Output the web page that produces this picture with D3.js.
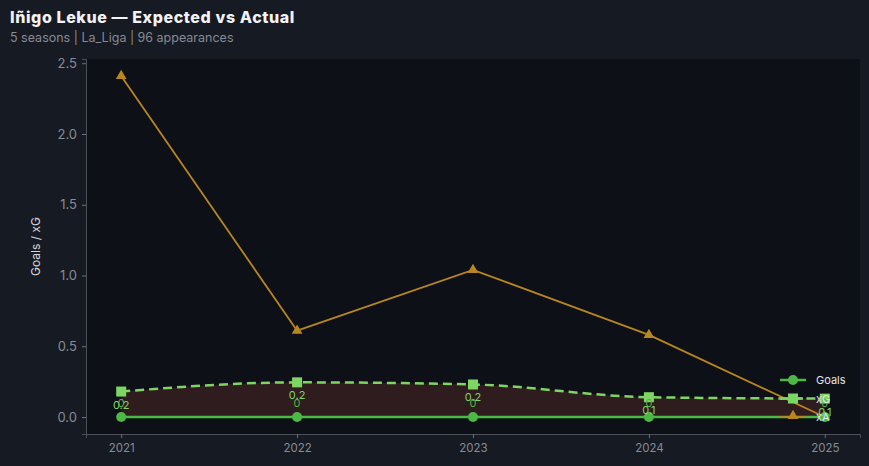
<!DOCTYPE html>
<html>
<head>
<meta charset="utf-8">
<script src="https://cdn.jsdelivr.net/npm/d3@7"></script>
<style>
  body { margin: 0; background: #161a22; }
  svg { display: block; font-family: Inter, "Noto Sans", sans-serif; }
</style>
</head>
<body>
<div id="chart"></div>
<script>
const seasons = [2021, 2022, 2023, 2024, 2025];
const goals = [0, 0, 0, 0, 0];
const xG = [0.18, 0.245, 0.23, 0.14, 0.13];
const xA = [2.41, 0.61, 1.04, 0.58, 0.0];
const yTicks = [0, 0.5, 1.0, 1.5, 2.0, 2.5];

const W = 869, H = 466;
const margin = {top: 59, right: 9, bottom: 32, left: 86};
const width = W - margin.left - margin.right;
const height = H - margin.top - margin.bottom;

const colGoals = "#4cb944", colXG = "#7dd664", colXA = "#b8861e";

const svg = d3.select("#chart").append("svg")
    .attr("width", W).attr("height", H);

svg.append("rect").attr("width", W).attr("height", H).attr("fill", "#161a22");

svg.append("text").attr("x", 10).attr("y", 23)
    .attr("fill", "#f2f2f4").attr("font-size", 16).attr("font-weight", 800)
    .attr("letter-spacing", 0.6)
    .text("Iñigo Lekue — Expected vs Actual");
svg.append("text").attr("x", 10).attr("y", 42)
    .attr("fill", "#868b95").attr("font-size", 12.5)
    .text("5 seasons | La_Liga | 96 appearances");

const g = svg.append("g").attr("transform", `translate(${margin.left},${margin.top})`);

g.append("rect").attr("width", width).attr("height", height).attr("fill", "#0d1017");

// 5% margins like matplotlib
const x = d3.scaleLinear().domain([2020.8, 2025.2]).range([0, width]);
const y = d3.scaleLinear().domain([-0.12, 2.53]).range([height, 0]);

const rows = seasons.map((s, i) => ({s, goals: goals[i], xG: xG[i], xA: xA[i]}));

// axes
const xAxis = g.append("g").attr("transform", `translate(0,${height})`)
    .call(d3.axisBottom(x).tickValues(seasons).tickFormat(d3.format("d")).tickSize(4).tickPadding(6));
const yAxis = g.append("g")
    .call(d3.axisLeft(y).tickValues(yTicks).tickFormat(d3.format(".1f")).tickSize(4).tickPadding(5));
[xAxis, yAxis].forEach(a => {
    a.select(".domain").attr("stroke", "#4a4f58");
    a.selectAll(".tick line").attr("stroke", "#6b707a");
    a.selectAll(".tick text").attr("fill", "#868b95").attr("font-family", "Inter, sans-serif");
});
xAxis.selectAll(".tick text").attr("font-size", 11.5);
yAxis.selectAll(".tick text").attr("font-size", 13);

g.append("text")
    .attr("transform", `translate(${40 - margin.left},${height / 2}) rotate(-90)`)
    .attr("text-anchor", "middle").attr("fill", "#d6d8dc").attr("font-size", 12)
    .text("Goals / xG");

// fill between goals and xG
const area = d3.area().curve(d3.curveMonotoneX)
    .x(d => x(d.s)).y0(d => y(d.goals)).y1(d => y(d.xG));
g.append("path").datum(rows).attr("d", area).attr("fill", "#2e1c1f");

// xA line
g.append("path").datum(rows)
    .attr("d", d3.line().x(d => x(d.s)).y(d => y(d.xA)))
    .attr("fill", "none").attr("stroke", colXA).attr("stroke-width", 1.8);

// goals line
g.append("path").datum(rows)
    .attr("d", d3.line().x(d => x(d.s)).y(d => y(d.goals)))
    .attr("fill", "none").attr("stroke", colGoals).attr("stroke-width", 2.5);

// xG line
g.append("path").datum(rows)
    .attr("d", d3.line().curve(d3.curveMonotoneX).x(d => x(d.s)).y(d => y(d.xG)))
    .attr("fill", "none").attr("stroke", colXG).attr("stroke-width", 2.5)
    .attr("stroke-dasharray", "9,5");

// markers
const tri = d3.symbol().type(d3.symbolTriangle).size(50);
g.selectAll(".mxa").data(rows).join("path")
    .attr("transform", d => `translate(${x(d.s)},${y(d.xA)})`)
    .attr("d", tri).attr("fill", colXA);
g.selectAll(".mg").data(rows).join("circle")
    .attr("cx", d => x(d.s)).attr("cy", d => y(d.goals)).attr("r", 5)
    .attr("fill", colGoals);
g.selectAll(".mxg").data(rows).join("rect")
    .attr("x", d => x(d.s) - 5).attr("y", d => y(d.xG) - 5)
    .attr("width", 10).attr("height", 10).attr("fill", colXG);

// value labels
g.selectAll(".lg").data(rows).join("text")
    .attr("x", d => x(d.s)).attr("y", d => y(d.goals) - 10)
    .attr("text-anchor", "middle").attr("fill", colGoals).attr("font-size", 11)
    .text(d => d3.format("")(d.goals));
g.selectAll(".lxg").data(rows).join("text")
    .attr("x", d => x(d.s)).attr("y", d => y(d.xG) + 17)
    .attr("text-anchor", "middle").attr("fill", colXG).attr("font-size", 11)
    .text(d => d3.format(".1f")(d.xG));

// legend
const legendItems = [
    {name: "Goals", color: colGoals, dash: null, mark: "circle"},
    {name: "xG", color: colXG, dash: "9,5", mark: "square"},
    {name: "xA", color: colXA, dash: null, mark: "triangle"}
];
const lg = svg.append("g").attr("transform", "translate(780,380)");
legendItems.forEach((it, i) => {
    const row = lg.append("g").attr("transform", `translate(0,${i * 18.5})`);
    row.append("line").attr("x1", 0).attr("x2", 26).attr("y1", 0).attr("y2", 0)
        .attr("stroke", it.color).attr("stroke-width", it.mark === "triangle" ? 1.8 : 2.5)
        .attr("stroke-dasharray", it.dash);
    if (it.mark === "circle") row.append("circle").attr("cx", 13).attr("r", 5).attr("fill", it.color);
    if (it.mark === "square") row.append("rect").attr("x", 8).attr("y", -5).attr("width", 10).attr("height", 10).attr("fill", it.color);
    if (it.mark === "triangle") row.append("path").attr("transform", "translate(13,-1)").attr("d", tri).attr("fill", it.color);
    row.append("text").attr("x", 36).attr("y", 4).attr("fill", "#e4e5e8").attr("font-size", 11)
        .text(it.name);
});
</script>
</body>
</html>
